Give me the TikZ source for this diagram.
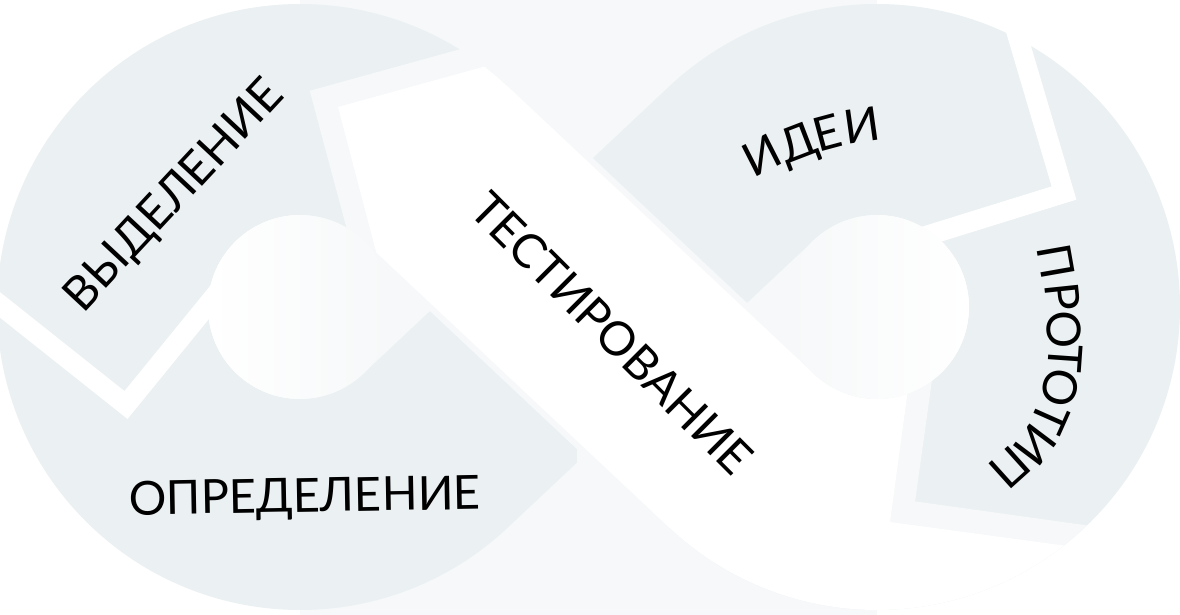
\documentclass[tikz,border=0pt]{standalone}
\usepackage{fontspec}
\setmainfont{Lato}
\usetikzlibrary{calc}
\definecolor{ringgray}{RGB}{235,240,242}
\definecolor{shadowgray}{RGB}{246,248,249}
\newcommand{\lblfont}{\fontsize{47}{52}\selectfont}
\begin{document}
\begin{tikzpicture}[x=1pt,y=-1pt,
  lbl/.style={font=\lblfont, inner sep=0pt, text depth=0pt, text=black},
  ringgap/.style={white, line width=20pt},
  bandgap/.style={shadowgray, line width=25pt}]
\useasboundingbox (0,0) rectangle (1180,615);
\clip (0,0) rectangle (1180,615);
\coordinate (C1) at (300,307);
\coordinate (C2) at (877,307);
% soft background between the loops
\fill[shadowgray] (300,0) rectangle (877,615);
% the grey figure-eight ribbon
\draw[ringgray, line width=211pt]
  ($(C1)+(-46.8:197.5)$) arc[start angle=-46.8, end angle=-313.2, radius=197.5]
  -- ($(C2)+(-133.2:197.5)$) arc[start angle=-133.2, end angle=133.2, radius=197.5]
  -- cycle;
% end of the lower crossing strip
\fill[shadowgray] (577,400) rectangle (660,520);
% margin of the white band
\draw[shadowgray, line width=223pt] ($(C1)+(-46.8:197.5)$) -- ($(C2)+(133.2:197.5)$);
% gaps at both ends of the white band
\draw[bandgap] (533,42) -- (325,99.5) -- (372,275);
\begin{scope}
  \clip (C2) circle (303);
  \draw[bandgap] (1130,544) -- (901,512) -- (925,340);
\end{scope}
% white band
\begin{scope}
  \clip (338,107) -- (394,320) -- (450,640) -- (1170,640) -- (1145,556.5) -- (890,522)
        -- (912,359.5) -- (700,250) -- (700,-20) -- (642,23) -- cycle;
  \draw[white, line width=211pt]
    ($(C1)+(-100:197.5)$) arc[start angle=-100, end angle=-46.8, radius=197.5]
    -- ($(C2)+(133.2:197.5)$) arc[start angle=133.2, end angle=30, radius=197.5];
\end{scope}
% white chevron gaps in the loops
\draw[ringgap] (-20,289) -- (126,405) -- (240,265);
\draw[ringgap] (1004,-10) -- (1064,193) -- (900,244);
% holes
\shade[left color=white, right color=shadowgray] (C1) circle (92);
\shade[left color=shadowgray, right color=white] (C2) circle (92);
% labels
\node[lbl, rotate=47] (vyd) at (172,194) {ВЫДЕЛЕНИЕ};
\node[lbl, rotate=1, anchor=base] (opr) at (305,512) {ОПРЕДЕЛЕНИЕ};
\node[lbl, rotate=-45] (test) at (612,333) {ТЕСТИРОВАНИЕ};
% ИДЕИ
\node[lbl, rotate=27] (i1) at (762,155) {И};
\node[lbl, rotate=21] (i2) at (797.5,142.5) {Д};
\node[lbl, rotate=15] (i3) at (827.5,133) {Е};
\node[lbl, rotate=8]  (i4) at (862,125) {И};
% ПРОТОТИП
\node[lbl, rotate=-80]  (p1) at (1056,262) {П};
\node[lbl, rotate=-84]  (p2) at (1063,297) {Р};
\node[lbl, rotate=-88]  (p3) at (1064,330) {О};
\node[lbl, rotate=-94]  (p4) at (1065,359) {Т};
\node[lbl, rotate=-104] (p5) at (1060,388) {О};
\node[lbl, rotate=-114] (p6) at (1050,418) {Т};
\node[lbl, rotate=-127] (p7) at (1035,445) {И};
\node[lbl, rotate=-138] (p8) at (1010,468) {П};
\end{tikzpicture}
\end{document}
